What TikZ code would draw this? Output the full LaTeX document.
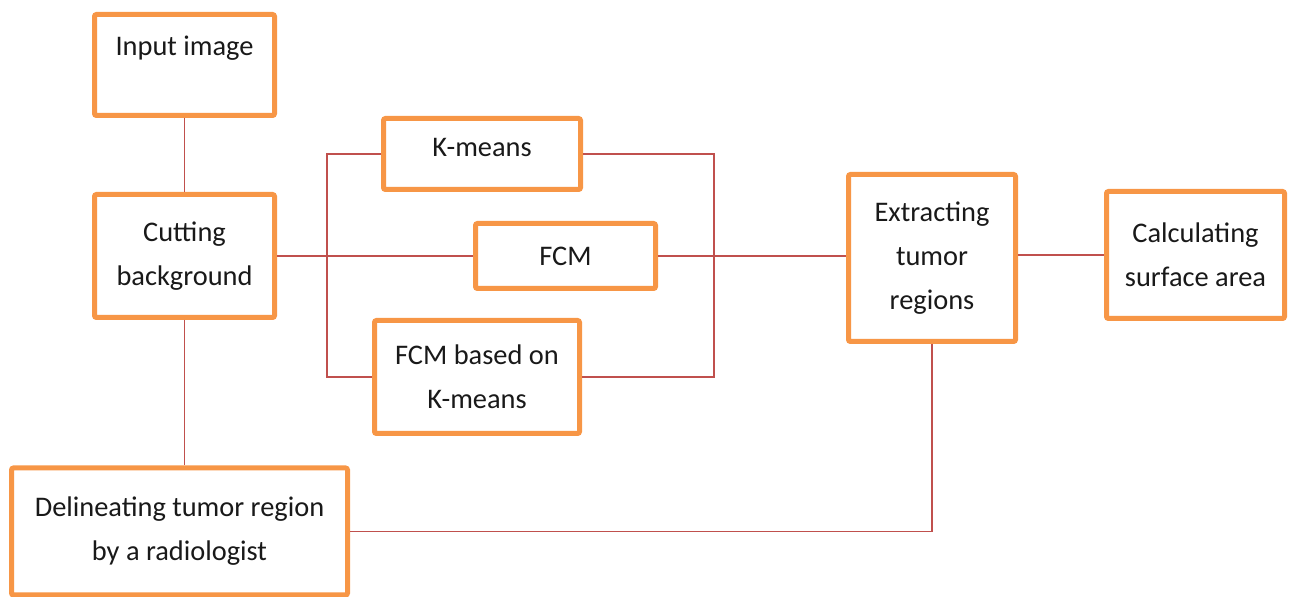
\documentclass[tikz,border=0pt]{standalone}
\usepackage{fontspec}
\setmainfont{Carlito}
\definecolor{boxorange}{RGB}{247,150,70}
\definecolor{linered}{RGB}{192,80,77}
\tikzset{
  boxtext/.style={align=center, font=\fontsize{14.2}{22}\selectfont, text=black!90},
  box/.style={draw=boxorange, line width=2.5pt, fill=white, rounded corners=1pt,
    inner sep=2pt, boxtext},
  conn/.style={draw=linered, line width=0.75pt}
}
\begin{document}
\begin{tikzpicture}[x=0.5pt, y=-0.5pt]
\useasboundingbox (0,0) rectangle (1290,597);
\node[box, minimum width=90pt, minimum height=50.5pt,
  label={[boxtext, yshift=8.5pt]center:Input image}] (inp) at (184.5,65) {};
\node[box, minimum width=90pt, minimum height=61.5pt] (cut) at (184.5,256) {Cutting\\background};
\node[box, minimum width=98.5pt, minimum height=35.5pt,
  label={[boxtext, yshift=3pt]center:K-means}] (km) at (482,154) {};
\node[box, minimum width=90pt, minimum height=32.5pt] (fcm) at (565.5,256) {FCM};
\node[box, minimum width=102.5pt, minimum height=56.5pt] (fkm) at (477,377) {FCM based on\\K-means};
\node[box, minimum width=83.5pt, minimum height=83.5pt] (ext) at (932,258) {Extracting\\tumor\\regions};
\node[box, minimum width=89pt, minimum height=63.5pt] (calc) at (1195.5,255) {Calculating\\surface area};
\node[box, minimum width=168pt, minimum height=63.5pt] (del) at (179.5,531.5) {Delineating tumor region\\by a radiologist};
\coordinate (bl) at (327,256);
\coordinate (br) at (714,256);
\draw[conn] (inp.south) -- (cut.north);
\draw[conn] (cut.south) -- (cut.south |- del.north);
\draw[conn] (cut.east) -- (fcm.west);
\draw[conn] (fcm.east) -- (fcm.east -| ext.west);
\draw[conn] (calc.west -| ext.east) -- (calc.west);
\draw[conn] (km.west) -| (bl) |- (fkm.west);
\draw[conn] (km.east) -| (br) |- (fkm.east);
\draw[conn] (ext.south) |- (del.east);
\end{tikzpicture}
\end{document}
